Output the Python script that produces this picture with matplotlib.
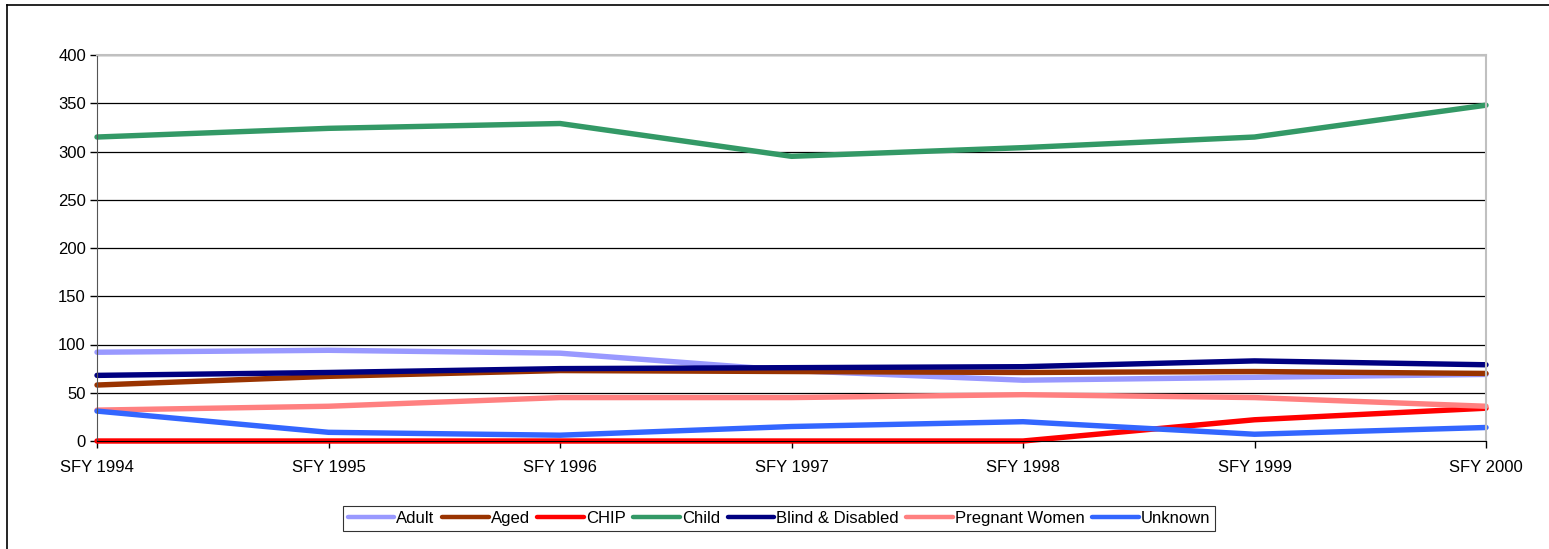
import matplotlib.pyplot as plt
from matplotlib.lines import Line2D

years = ["SFY 1994", "SFY 1995", "SFY 1996", "SFY 1997", "SFY 1998", "SFY 1999", "SFY 2000"]

adult = [92, 94, 91, 73, 63, 66, 69]
aged = [58, 67, 73, 72, 71, 72, 70]
chip = [0, 0, 0, 0, 0, 22, 34]
child = [315, 324, 329, 295, 304, 315, 348]
blind = [68, 71, 75, 76, 77, 83, 79]
pregnant = [32, 36, 45, 45, 48, 45, 36]
unknown = [31, 9, 6, 15, 20, 7, 14]

series = [
    ("Adult", adult, "#9999FF"),
    ("Aged", aged, "#993300"),
    ("CHIP", chip, "#FF0000"),
    ("Child", child, "#339966"),
    ("Blind & Disabled", blind, "#000080"),
    ("Pregnant Women", pregnant, "#FF8080"),
    ("Unknown", unknown, "#3366FF"),
]


def main():
    plt.rcParams['font.family'] = ['Liberation Sans', 'DejaVu Sans']
    fig = plt.figure(figsize=(15.49, 5.49), dpi=100)
    ax = fig.add_axes([97 / 1549, 1 - 441 / 549, (1486 - 97) / 1549, (441 - 55) / 549])

    x = list(range(len(years)))
    for name, vals, color in series:
        ax.plot(x, vals, color=color, lw=3.9, label=name, solid_capstyle='round', clip_on=False)

    ax.set_xlim(0, len(years) - 1)
    ax.set_ylim(0, 400)
    ax.set_xticks(x)
    ax.set_xticklabels(years)
    ax.set_yticks(range(0, 401, 50))
    ax.yaxis.grid(True, color='black', lw=0.9)
    ax.set_axisbelow(True)
    ax.tick_params(axis='both', labelsize=12, direction='out', length=5, width=1)
    ax.tick_params(axis='x', pad=9)
    ax.tick_params(axis='y', pad=3)

    for s in ['top', 'right']:
        ax.spines[s].set_color('#C0C0C0')
        ax.spines[s].set_linewidth(1.5)
    ax.spines['left'].set_color('#555555')
    ax.spines['bottom'].set_color('black')

    leg = fig.legend(loc='center', bbox_to_anchor=(779 / 1549, 1 - 518.5 / 549), ncol=7,
                     fontsize=12, frameon=True, fancybox=False, edgecolor='black',
                     handlelength=2.8, handletextpad=0.12, columnspacing=0.45,
                     borderpad=0.3, borderaxespad=0)
    leg.get_frame().set_linewidth(0.8)
    for line in leg.get_lines():
        line.set_linewidth(3.2)

    # outer chart border (left and top visible)
    fig.add_artist(Line2D([7 / 1549, 7 / 1549], [0, 1 - 5 / 549], color='black', lw=1.2,
                          transform=fig.transFigure))
    fig.add_artist(Line2D([7 / 1549, 1], [1 - 5 / 549, 1 - 5 / 549], color='black', lw=1.2,
                          transform=fig.transFigure))

    fig.savefig("out.png", dpi=100)


if __name__ == "__main__":
    main()
